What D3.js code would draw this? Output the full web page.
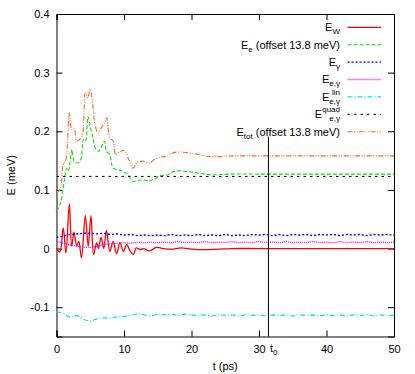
<!DOCTYPE html>
<html>
<head>
<meta charset="utf-8">
<script src="https://cdn.jsdelivr.net/npm/d3@7"></script>
<style>
	body { margin: 0; background: #fff; }
	text { font-family: "Liberation Sans", Arial, sans-serif; fill: #000; }
	.axis path, .axis line { stroke: #000; stroke-width: 1; }
	.axis text { font-size: 11px; }
</style>
</head>
<body>
<script>
// energy curves, values (meV)
const tW = [0, 0.5, 1.0, 1.4, 1.9, 2.25, 2.6, 3.0, 3.3, 3.7, 4.27, 4.7, 5.1, 5.5, 5.95, 6.2, 6.6, 7.0, 7.4, 7.9, 8.4, 8.9, 9.4, 9.9, 10.4, 10.9, 11.4, 11.8, 12.4, 12.9, 13.8, 14.8, 15.8, 17, 18.5, 20, 22, 24, 26, 30, 35, 40, 45, 50];
const eW = [0.0, -0.006, 0.035, -0.008, 0.076, 0.004, 0.028, 0.004, 0.012, -0.016, 0.056, 0.004, 0.056, -0.010, 0.010, 0.0, 0.019, 0.0, 0.031, -0.005, 0.012, -0.009, 0.010, -0.005, 0.007, -0.004, -0.010, 0.001, -0.002, 0.0, -0.004, 0.002, 0.0, -0.001, 0.001, -0.001, -0.002, -0.001, 0.0, 0.0, 0.0, 0.0, 0.0, 0.0];

const tE = [0, 0.5, 0.9, 1.2, 1.5, 1.75, 2.3, 2.6, 3.1, 3.6, 4.0, 4.3, 4.66, 5.0, 5.4, 5.75, 6.25, 6.7, 7.1, 7.4, 7.9, 8.4, 9.3, 10.1, 10.6, 11.2, 12, 13, 13.7, 14.5, 15.3, 16.3, 17.5, 19.7, 22.7, 26, 30, 35, 40, 45, 50];
const eE = [0.064, 0.074, 0.095, 0.12, 0.137, 0.132, 0.169, 0.149, 0.146, 0.152, 0.186, 0.183, 0.225, 0.208, 0.189, 0.172, 0.166, 0.175, 0.183, 0.166, 0.160, 0.137, 0.134, 0.130, 0.126, 0.115, 0.116, 0.117, 0.115, 0.118, 0.124, 0.125, 0.132, 0.131, 0.126, 0.127, 0.127, 0.127, 0.127, 0.127, 0.127];

const tTot = [0, 0.5, 1.0, 1.4, 1.9, 2.25, 2.6, 3.0, 3.4, 3.8, 4.27, 4.6, 5.0, 5.4, 5.75, 6.2, 6.6, 7.1, 7.4, 7.9, 8.4, 8.8, 9.5, 10.1, 10.7, 11.3, 12, 12.9, 13.8, 14.5, 15.5, 16.3, 17.5, 19.7, 22.7, 26, 30, 35, 40, 45, 50];
const eTot = [0.096, 0.100, 0.143, 0.152, 0.231, 0.203, 0.205, 0.183, 0.186, 0.191, 0.265, 0.257, 0.272, 0.242, 0.208, 0.197, 0.205, 0.214, 0.223, 0.189, 0.183, 0.160, 0.166, 0.167, 0.152, 0.137, 0.147, 0.149, 0.146, 0.152, 0.156, 0.157, 0.164, 0.163, 0.157, 0.158, 0.158, 0.158, 0.158, 0.158, 0.158];

// these three are sampled every 1 ps
const tStep = d3.range(0, 51);
const eGamma = [0.019, 0.021, 0.024, 0.025, 0.026, 0.026, 0.025, 0.026, 0.024, 0.025, 0.023, 0.024, 0.022, 0.023, 0.022, 0.023, 0.022, 0.024, 0.022, 0.023, 0.022, 0.024, 0.022, 0.023, 0.022, 0.024, 0.022, 0.023, 0.022, 0.024, 0.023, 0.024, 0.022, 0.024, 0.022, 0.024, 0.023, 0.024, 0.022, 0.024, 0.023, 0.024, 0.022, 0.024, 0.023, 0.024, 0.022, 0.024, 0.023, 0.024, 0.023];
const eEGamma = [0.0125, 0.009, 0.006, 0.004, 0.002, 0.002, 0.004, 0.007, 0.008, 0.009, 0.010, 0.009, 0.011, 0.010, 0.011, 0.010, 0.011, 0.010, 0.012, 0.010, 0.011, 0.010, 0.012, 0.010, 0.011, 0.010, 0.012, 0.010, 0.011, 0.010, 0.012, 0.010, 0.011, 0.010, 0.012, 0.010, 0.011, 0.010, 0.012, 0.010, 0.011, 0.010, 0.012, 0.010, 0.011, 0.010, 0.012, 0.010, 0.011, 0.010, 0.011];
const eLin = [-0.108, -0.110, -0.118, -0.114, -0.121, -0.124, -0.120, -0.118, -0.119, -0.116, -0.116, -0.114, -0.111, -0.113, -0.115, -0.112, -0.113, -0.112, -0.114, -0.112, -0.113, -0.115, -0.113, -0.115, -0.113, -0.114, -0.113, -0.115, -0.113, -0.114, -0.113, -0.115, -0.113, -0.114, -0.113, -0.115, -0.113, -0.114, -0.113, -0.115, -0.113, -0.114, -0.113, -0.115, -0.113, -0.114, -0.113, -0.115, -0.113, -0.114, -0.114];

const tQuad = [0, 50];
const eQuad = [0.123, 0.123];

const t0 = 31.4;
const t0Top = 0.191; // where the marker line starts (in meV)

const xTicks = [0, 10, 20, 30, 40, 50];
const yTicks = [-0.1, 0, 0.1, 0.2, 0.3, 0.4];

// legend: subscript, superscript, suffix
const legendSubs = ["W", "e", "γ", "e,γ", "e,γ", "e,γ", "tot"];
const legendSups = ["", "", "", "", "lin", "quad", ""];
const legendSuffix = ["", " (offset 13.8 meV)", "", "", "", "", " (offset 13.8 meV)"];

const size = { w: 415, h: 374 };
const margin = { t: 14, r: 21, b: 37.5, l: 56.5 };

const svg = d3.select("body").append("svg")
	.attr("width", size.w).attr("height", size.h);
const g = svg.append("g");

const xScale = d3.scaleLinear().domain([0, 50]).range([margin.l, size.w - margin.r]);
const yScale = d3.scaleLinear().domain([-0.15, 0.4]).range([size.h - margin.b, margin.t]);

const series = [
	{ t: tW, e: eW, color: "#ff0000", dash: null, width: 1.3, curve: d3.curveCatmullRom },
	{ t: tE, e: eE, color: "#11dd11", dash: "4,2", width: 1.1, curve: d3.curveCatmullRom },
	{ t: tStep, e: eGamma, color: "#0000ff", dash: "2,2", width: 1.4, curve: d3.curveLinear },
	{ t: tStep, e: eEGamma, color: "#ff00ff", dash: "1,1", width: 1.4, curve: d3.curveLinear },
	{ t: tStep, e: eLin, color: "#00e5e5", dash: "5,2,1,2", width: 1.2, curve: d3.curveLinear },
	{ t: tQuad, e: eQuad, color: "#000000", dash: "2.5,4", width: 1, curve: d3.curveLinear },
	{ t: tTot, e: eTot, color: "#ff6633", dash: "5,1.5,1,1.5,1,1.5", width: 1.1, curve: d3.curveCatmullRom },
];

// axes, gnuplot style: ticks inside on all four sides
g.append("g").attr("class", "axis")
	.attr("transform", `translate(0,${size.h - margin.b})`)
	.call(d3.axisBottom(xScale).tickValues(xTicks).tickSize(-6).tickPadding(9).tickFormat((d) => String(d)));
g.append("g").attr("class", "axis")
	.attr("transform", `translate(0,${margin.t})`)
	.call(d3.axisTop(xScale).tickValues(xTicks).tickSize(-6).tickFormat(""));
g.append("g").attr("class", "axis")
	.attr("transform", `translate(${margin.l},0)`)
	.call(d3.axisLeft(yScale).tickValues(yTicks).tickSize(-6).tickPadding(7).tickFormat((d) => String(d)));
g.append("g").attr("class", "axis")
	.attr("transform", `translate(${size.w - margin.r},0)`)
	.call(d3.axisRight(yScale).tickValues(yTicks).tickSize(-6).tickFormat(""));
g.selectAll(".axis .domain").attr("stroke-width", 1.2);

const line = d3.line();
series.forEach((s) => {
	g.append("path")
		.datum(s.t.map((t, i) => [t, s.e[i]]))
		.attr("fill", "none")
		.attr("stroke", s.color)
		.attr("stroke-width", s.width)
		.attr("stroke-dasharray", s.dash)
		.attr("d", line.curve(s.curve).x((d) => xScale(d[0])).y((d) => yScale(d[1])));
});

// t0 marker
g.append("line")
	.attr("x1", xScale(t0)).attr("x2", xScale(t0))
	.attr("y1", yScale(t0Top)).attr("y2", yScale(-0.15))
	.attr("stroke", "#000").attr("stroke-width", 1);
const t0Label = g.append("text")
	.attr("x", xScale(t0) + 1.5).attr("y", size.h - margin.b + 15.5)
	.style("font-size", "11px").text("t");
t0Label.append("tspan").attr("dy", 2.5).style("font-size", "8px").text("0");

// axis labels
g.append("text")
	.attr("x", (margin.l + size.w - margin.r) / 2).attr("y", 370)
	.attr("text-anchor", "middle").style("font-size", "11px").text("t (ps)");
g.append("text")
	.attr("transform", `translate(15,${(margin.t + size.h - margin.b) / 2}) rotate(-90)`)
	.attr("text-anchor", "middle").style("font-size", "11px").text("E (meV)");

// legend
const legX = 340, legY0 = 27.3, legStep = 17.4;
legendSubs.forEach((sub, i) => {
	let y = legY0 + i * legStep;
	let base = y + 3.8;
	if (legendSups[i] === "") {
		let txt = g.append("text").attr("x", legX).attr("y", base)
			.attr("text-anchor", "end").style("font-size", "11px").text("E");
		txt.append("tspan").attr("dy", 3).style("font-size", "8px").text(sub);
		if (legendSuffix[i]) {
			txt.append("tspan").attr("dy", -3).style("font-size", "11px").text(legendSuffix[i]);
		}
	} else {
		let subT = g.append("text").attr("x", legX).attr("y", base + 3)
			.attr("text-anchor", "end").style("font-size", "8px").text(sub);
		let supT = g.append("text").attr("x", legX).attr("y", base - 6)
			.attr("text-anchor", "end").style("font-size", "8px").text(legendSups[i]);
		let wMax = Math.max(subT.node().getComputedTextLength(), supT.node().getComputedTextLength());
		g.append("text").attr("x", legX - wMax).attr("y", base)
			.attr("text-anchor", "end").style("font-size", "11px").text("E");
	}
	let s = series[i];
	g.append("line")
		.attr("x1", 347.5).attr("x2", 381)
		.attr("y1", y).attr("y2", y)
		.attr("stroke", s.color)
		.attr("stroke-width", s.width)
		.attr("stroke-dasharray", s.dash);
});
</script>
</body>
</html>
